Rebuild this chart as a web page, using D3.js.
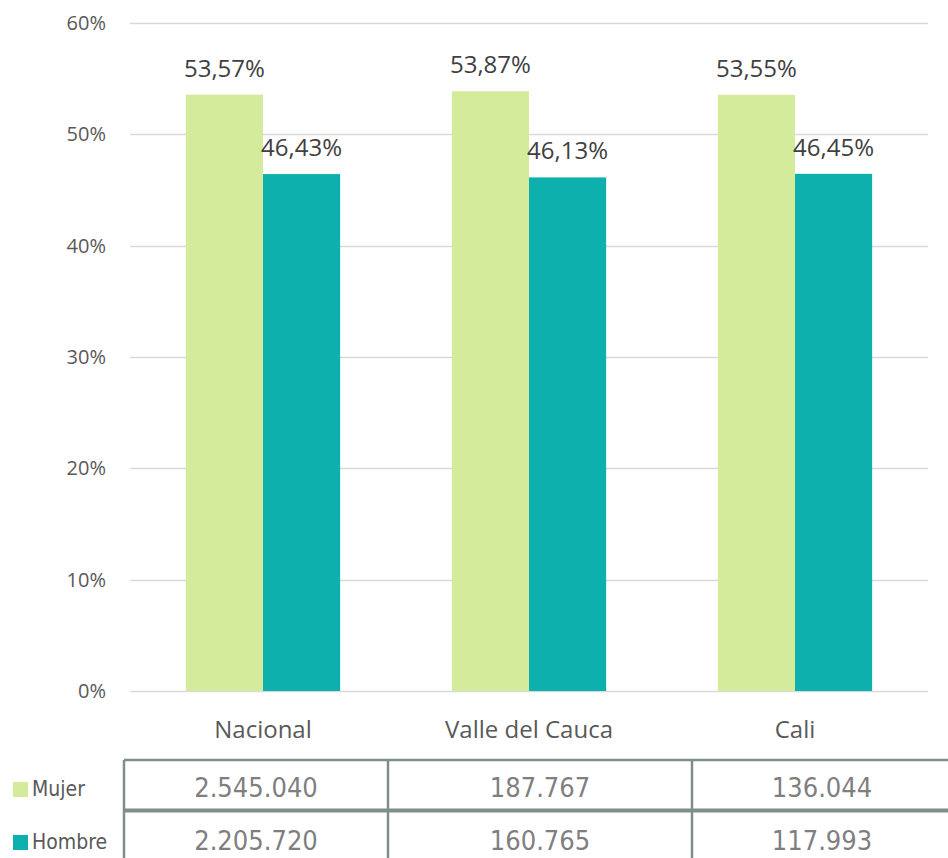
<!DOCTYPE html>
<html lang="es">
<head>
<meta charset="utf-8">
<title>Mujer / Hombre</title>
<script src="https://d3js.org/d3.v7.min.js"></script>
<style>
  body { margin: 0; background: #fff; }
  svg { display: block; }
</style>
</head>
<body>
<div id="chart"></div>
<script>

// data
var categories = ["Nacional", "Valle del Cauca", "Cali"];
var series = ["Mujer", "Hombre"];
var mujerPct = [53.57, 53.87, 53.55];
var hombrePct = [46.43, 46.13, 46.45];
var mujerCount = ["2.545.040", "187.767", "136.044"];
var hombreCount = ["2.205.720", "160.765", "117.993"];
var yTicks = [0, 10, 20, 30, 40, 50, 60];

var colors = { Mujer: "#d4eb9c", Hombre: "#0db0ad" };

var W = 948, H = 858;
var plot = { left: 130, right: 928, top: 23, bottom: 691 };

var svg = d3.select("#chart").append("svg")
  .attr("width", W)
  .attr("height", H);

// scales
var y = d3.scaleLinear().domain([0, 60]).range([plot.bottom, plot.top]);
var x0 = d3.scaleBand().domain(categories)
  .range([plot.left, plot.right])
  .paddingInner(0.42).paddingOuter(0.21);
var x1 = d3.scaleBand().domain(series).range([0, x0.bandwidth()]);

// gridlines
svg.append("g")
  .selectAll("line")
  .data(yTicks)
  .join("line")
    .attr("x1", plot.left)
    .attr("x2", plot.right)
    .attr("y1", function(d) { return Math.round(y(d)) + 0.5; })
    .attr("y2", function(d) { return Math.round(y(d)) + 0.5; })
    .attr("stroke", "#d9d9d9")
    .attr("stroke-width", 1.5);

// y axis labels
var yAxis = svg.append("g")
  .attr("transform", "translate(" + (plot.left - 24) + ",0)")
  .call(d3.axisLeft(y).tickValues(yTicks).tickSize(0).tickFormat(function(d) { return d + "%"; }));
yAxis.select(".domain").remove();
yAxis.selectAll("text")
  .attr("x", 0)
  .style("font-family", "'Open Sans', sans-serif")
  .style("font-size", "20px")
  .attr("fill", "#595959");

// bars
var rows = categories.map(function(c, i) {
  return { cat: c, values: [ { s: "Mujer", v: mujerPct[i] }, { s: "Hombre", v: hombrePct[i] } ] };
});

var groups = svg.append("g")
  .selectAll("g")
  .data(rows)
  .join("g")
    .attr("transform", function(d) { return "translate(" + x0(d.cat) + ",0)"; });

groups.selectAll("rect")
  .data(function(d) { return d.values; })
  .join("rect")
    .attr("x", function(d) { return x1(d.s); })
    .attr("width", x1.bandwidth())
    .attr("y", function(d) { return y(d.v); })
    .attr("height", function(d) { return y(0) - y(d.v); })
    .attr("fill", function(d) { return colors[d.s]; });

// data labels
groups.selectAll("text")
  .data(function(d) { return d.values; })
  .join("text")
    .attr("x", function(d) { return x1(d.s) + x1.bandwidth() / 2; })
    .attr("y", function(d) { return y(d.v) - 18; })
    .attr("text-anchor", "middle")
    .style("font-family", "'Open Sans', sans-serif")
    .style("font-size", "24px")
    .attr("fill", "#404040")
    .text(function(d) { return d.v.toFixed(2).replace(".", ",") + "%"; });

// x axis labels
var xAxis = svg.append("g")
  .attr("transform", "translate(0," + plot.bottom + ")")
  .call(d3.axisBottom(x0).tickSize(0).tickPadding(0));
xAxis.select(".domain").remove();
xAxis.selectAll("text")
  .attr("y", 47)
  .attr("dy", 0)
  .style("font-family", "'Open Sans', sans-serif")
  .style("font-size", "24px")
  .attr("fill", "#595959");

// data table under the chart
var tableCols = [124, 388, 692, 952];
var tableTop = 760, tableMid = 810.5, tableBottom = 860;
var border = "#7d8e8b";
var table = svg.append("g");

table.append("line")
  .attr("x1", tableCols[0]).attr("x2", W)
  .attr("y1", tableTop).attr("y2", tableTop)
  .attr("stroke", border).attr("stroke-width", 2.5);
table.append("line")
  .attr("x1", tableCols[0]).attr("x2", W)
  .attr("y1", tableMid).attr("y2", tableMid)
  .attr("stroke", border).attr("stroke-width", 4);
table.selectAll(".vline")
  .data(tableCols.slice(0, 3))
  .join("line")
    .attr("class", "vline")
    .attr("x1", function(d) { return d; }).attr("x2", function(d) { return d; })
    .attr("y1", tableTop).attr("y2", tableBottom)
    .attr("stroke", border).attr("stroke-width", 2.5);

var tableRows = [
  { s: "Mujer", vals: mujerCount, base: 797 },
  { s: "Hombre", vals: hombreCount, base: 850 }
];

tableRows.forEach(function(r) {
  table.selectAll(null)
    .data(r.vals)
    .join("text")
      .attr("x", function(d, i) { return (tableCols[i] + tableCols[i + 1]) / 2; })
      .attr("y", r.base)
      .attr("text-anchor", "middle")
      .style("font-family", "'DejaVu Sans Condensed', 'DejaVu Sans', sans-serif")
      .style("font-stretch", "condensed")
      .style("font-size", "27px")
      .attr("fill", "#7f7f7f")
      .text(function(d) { return d; });

  // legend key
  table.append("rect")
    .attr("x", 13).attr("y", r.base - 15)
    .attr("width", 15).attr("height", 15)
    .attr("fill", colors[r.s]);
  table.append("text")
    .attr("x", 32).attr("y", r.base - 1)
    .style("font-family", "'DejaVu Sans Condensed', 'DejaVu Sans', sans-serif")
    .style("font-stretch", "condensed")
    .style("font-size", "21px")
    .attr("fill", "#595959")
    .text(r.s);
});

</script>
</body>
</html>
